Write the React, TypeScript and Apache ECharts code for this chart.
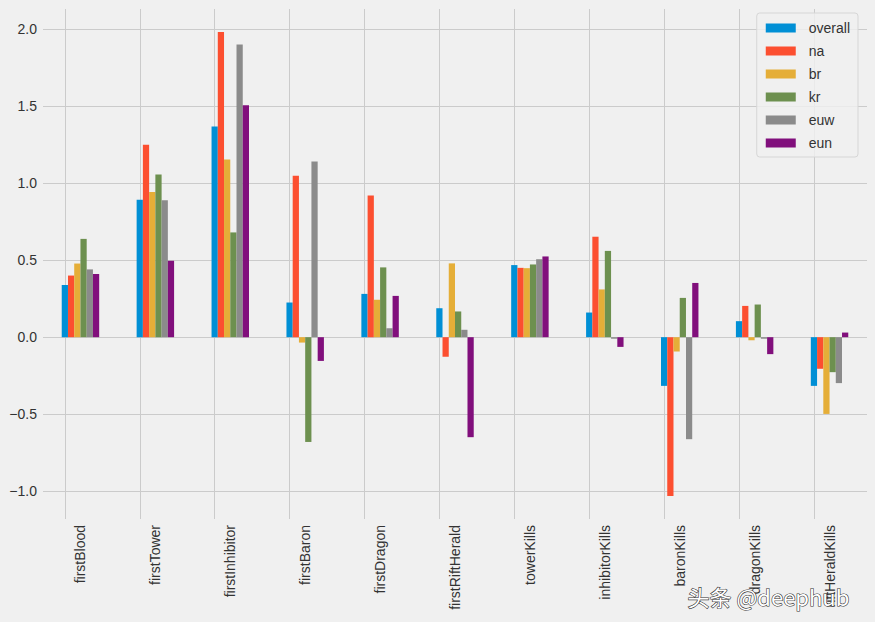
import React, { useEffect, useRef } from "react";
import * as echarts from "echarts";

const categories = [
  "firstBlood",
  "firstTower",
  "firstInhibitor",
  "firstBaron",
  "firstDragon",
  "firstRiftHerald",
  "towerKills",
  "inhibitorKills",
  "baronKills",
  "dragonKills",
  "riftHeraldKills",
];

const seriesNames = ["overall", "na", "br", "kr", "euw", "eun"];

const overall = [0.338, 0.892, 1.368, 0.225, 0.281, 0.188, 0.468, 0.16, -0.316, 0.104, -0.316];
const na = [0.4, 1.249, 1.981, 1.048, 0.92, -0.127, 0.45, 0.652, -1.03, 0.203, -0.205];
const br = [0.478, 0.942, 1.154, -0.035, 0.243, 0.479, 0.448, 0.31, -0.093, -0.02, -0.498];
const kr = [0.638, 1.056, 0.68, -0.68, 0.453, 0.167, 0.472, 0.56, 0.255, 0.212, -0.227];
const euw = [0.44, 0.888, 1.899, 1.141, 0.058, 0.048, 0.506, -0.01, -0.662, -0.01, -0.298];
const eun = [0.41, 0.496, 1.505, -0.154, 0.268, -0.649, 0.524, -0.063, 0.352, -0.11, 0.03];

const seriesValues = [overall, na, br, kr, euw, eun];
const colors = ["#008fd5", "#fc4f30", "#e5ae38", "#6d904f", "#8b8b8b", "#810f7c"];

const yMin = -1.18;
const yMax = 2.13;
const yTickStep = 0.5;

const FONT = "'Liberation Sans', Arial, Helvetica, sans-serif";

export default function App() {
  const ref = useRef<HTMLDivElement>(null);

  useEffect(() => {
    if (!ref.current) return;
    const chart = echarts.init(ref.current, undefined, { renderer: "svg" });

    const series: any[] = seriesNames.map((name, i) => ({
      name,
      type: "bar",
      data: seriesValues[i],
      itemStyle: { color: colors[i] },
      barGap: "0%",
      barCategoryGap: "50%",
      z: 2,
    }));

    // vertical grid lines at category centres (matplotlib style)
    series[0].markLine = {
      silent: true,
      symbol: ["none", "none"],
      z: 1,
      label: { show: false },
      lineStyle: { color: "#cbcbcb", width: 1, type: "solid" },
      data: categories.map((c) => ({ xAxis: c })),
    };

    chart.setOption({
      animation: false,
      backgroundColor: "#f0f0f0",
      textStyle: { fontFamily: FONT },
      grid: { left: 43, right: 8, top: 9, bottom: 103, containLabel: false },
      legend: {
        orient: "vertical",
        right: 17,
        top: 13,
        data: seriesNames,
        icon: "rect",
        itemWidth: 30,
        itemHeight: 9,
        itemGap: 9,
        padding: [8, 8, 7, 9],
        backgroundColor: "rgba(240,240,240,0.8)",
        borderColor: "#d6d6d6",
        borderWidth: 1,
        borderRadius: 3,
        textStyle: {
          fontSize: 14,
          lineHeight: 14,
          color: "#333",
          fontFamily: FONT,
          padding: [0, 0, 0, 8],
        },
      },
      xAxis: {
        type: "category",
        data: categories,
        axisLine: { show: false },
        axisTick: { show: false },
        splitLine: { show: false },
        axisLabel: {
          rotate: 90,
          margin: 6,
          fontSize: 14,
          color: "#333",
          fontFamily: FONT,
          interval: 0,
        },
      },
      yAxis: {
        type: "value",
        min: yMin,
        max: yMax,
        splitNumber: 6,
        axisLine: { show: false },
        axisTick: { show: false },
        splitLine: {
          show: true,
          showMinLine: false,
          showMaxLine: false,
          lineStyle: { color: "#cbcbcb", width: 1 },
        },
        axisLabel: {
          margin: 6,
          fontSize: 14,
          color: "#333",
          fontFamily: FONT,
          showMinLabel: false,
          showMaxLabel: false,
          formatter: (v: number) => {
            const k = v / yTickStep;
            if (Math.abs(k - Math.round(k)) > 1e-6) return "";
            return v < 0 ? "\u2212" + Math.abs(v).toFixed(1) : v.toFixed(1);
          },
        },
      },
      graphic: [
        {
          type: "text",
          left: 687,
          top: 584,
          z: 100,
          style: {
            text: "头条 @deephub",
            fontSize: 22,
            fontFamily: "'Noto Sans CJK SC', 'Liberation Sans', sans-serif",
            fill: "#ffffff",
            stroke: "#333333",
            lineWidth: 1.2,
          },
        },
      ],
      series,
    });

    return () => chart.dispose();
  }, []);

  return (
    <div
      ref={ref}
      style={{
        position: "absolute",
        left: 0,
        top: 0,
        width: 875,
        height: 622,
        background: "#f0f0f0",
      }}
    />
  );
}
